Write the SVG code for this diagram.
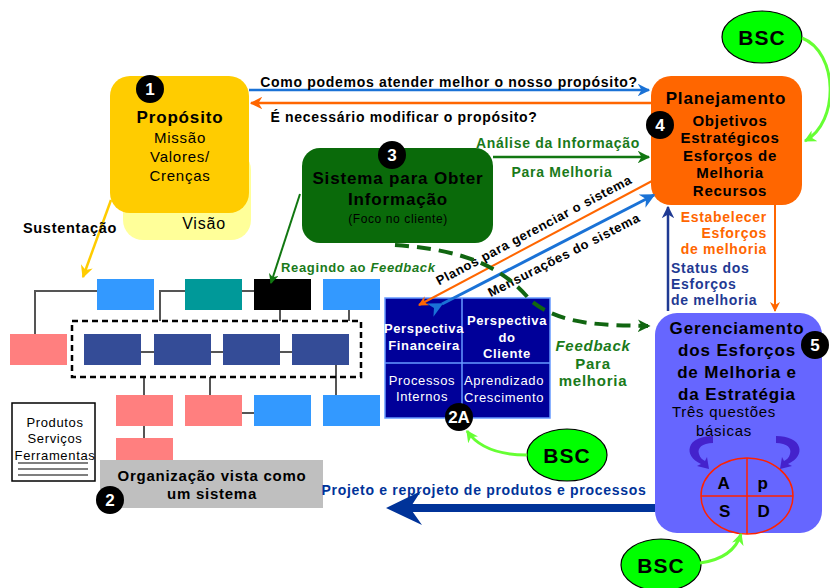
<svg xmlns="http://www.w3.org/2000/svg" width="830" height="588" viewBox="0 0 830 588">
<defs>
<style>
text{font-family:"Liberation Sans",Arial,sans-serif;letter-spacing:0.05em;}
.b{font-weight:bold;}
.c{text-anchor:middle;}
.num{fill:#000;}
.numt{fill:#fff;font-weight:bold;font-size:17px;text-anchor:middle;letter-spacing:0;}
.org{stroke:#555;stroke-width:2;fill:none;}
.g{fill:#1a7a1a;}
.curl{fill:#4422cc;}
</style>
<marker id="mBlue" viewBox="0 0 10 10" refX="9" refY="5" markerWidth="5" markerHeight="5" orient="auto"><path d="M0,0 L10,5 L0,10 L3,5 z" fill="#1a72d6"/></marker>
<marker id="mOr" viewBox="0 0 10 10" refX="9" refY="5" markerWidth="5" markerHeight="5" orient="auto"><path d="M0,0 L10,5 L0,10 L3,5 z" fill="#ff6600"/></marker>
<marker id="mGr" viewBox="0 0 10 10" refX="9" refY="5" markerWidth="5" markerHeight="5" orient="auto"><path d="M0,0 L10,5 L0,10 L3,5 z" fill="#117711"/></marker>
<marker id="mYe" viewBox="0 0 10 10" refX="9" refY="5" markerWidth="5" markerHeight="5" orient="auto"><path d="M0,0 L10,5 L0,10 L3,5 z" fill="#ffcc00"/></marker>
<marker id="mNv" viewBox="0 0 10 10" refX="9" refY="5" markerWidth="5" markerHeight="5" orient="auto"><path d="M0,0 L10,5 L0,10 L3,5 z" fill="#1f3a93"/></marker>
<marker id="mLg" viewBox="0 0 10 10" refX="9" refY="5" markerWidth="4" markerHeight="4" orient="auto"><path d="M0,0 L10,5 L0,10 L3,5 z" fill="#66ff33"/></marker>
<marker id="mDg" viewBox="0 0 10 10" refX="8" refY="5" markerWidth="3.2" markerHeight="3.2" orient="auto"><path d="M0,0 L10,5 L0,10 L3,5 z" fill="#116611"/></marker>
</defs>
<rect width="830" height="588" fill="#fff"/>

<!-- Org chart -->
<g id="orgchart">
<g class="org">
<path d="M97,291 H35 V334"/>
<path d="M185,291 H160 V321"/>
<path d="M242,291 H254"/>
<path d="M280,310 V321"/>
<path d="M349,310 V321"/>
<path d="M141,352 H154 M211,352 H223 M280,352 H292"/>
<path d="M144,377 V395"/>
<path d="M210,377 V395"/>
<path d="M336,365 V395"/>
<path d="M242,413 H254"/>
<path d="M144,426 V438"/>
</g>
<rect x="97" y="279" width="57" height="31" fill="#3399ff"/>
<rect x="185" y="279" width="57" height="31" fill="#009999"/>
<rect x="254" y="279" width="57" height="31" fill="#000"/>
<rect x="323" y="279" width="57" height="31" fill="#3399ff"/>
<rect x="10" y="334" width="57" height="31" fill="#ff7f7f"/>
<rect x="72" y="321" width="289" height="56" fill="none" stroke="#000" stroke-width="2.5" stroke-dasharray="6,4"/>
<rect x="84" y="334" width="57" height="31" fill="#344c97"/>
<rect x="154" y="334" width="57" height="31" fill="#344c97"/>
<rect x="223" y="334" width="57" height="31" fill="#344c97"/>
<rect x="292" y="334" width="57" height="31" fill="#344c97"/>
<rect x="116" y="395" width="57" height="31" fill="#ff7f7f"/>
<rect x="185" y="395" width="57" height="31" fill="#ff7f7f"/>
<rect x="254" y="395" width="57" height="31" fill="#3399ff"/>
<rect x="323" y="395" width="57" height="31" fill="#3399ff"/>
<rect x="116" y="438" width="57" height="24" fill="#ff7f7f"/>
</g>

<g id="produtos">
<rect x="12" y="403" width="83" height="78" fill="#fff" stroke="#000" stroke-width="1.5"/>
<text x="55" y="427" class="c" font-size="13" letter-spacing="0">Produtos</text>
<text x="55" y="443" class="c" font-size="13" letter-spacing="0">Serviços</text>
<text x="55" y="460" class="c" font-size="13" letter-spacing="0">Ferramentas</text>
<path d="M18,463 H88 M18,469 H88 M18,475 H88" stroke="#000" stroke-width="1.2"/>
</g>

<g id="organizacao">
<rect x="100" y="460" width="223" height="48" fill="#bfbfbf"/>
<text x="212" y="481" class="c b" font-size="15">Organização vista como</text>
<text x="212" y="499" class="c b" font-size="15">um sistema</text>
<circle cx="110" cy="500" r="14" class="num"/>
<text x="110" y="506" class="numt">2</text>
</g>

<g id="proposito">
<rect x="123" y="150" width="128" height="90" rx="20" fill="#ffff99"/>
<rect x="110" y="76" width="139" height="137" rx="20" fill="#ffcc00"/>
<circle cx="150" cy="89" r="14" class="num"/>
<text x="150" y="95" class="numt">1</text>
<text x="180" y="123" class="c b" font-size="17">Propósito</text>
<text x="180" y="143" class="c" font-size="15">Missão</text>
<text x="180" y="162" class="c" font-size="15">Valores/</text>
<text x="180" y="181" class="c" font-size="15">Crenças</text>
<text x="204" y="229" class="c" font-size="16">Visão</text>
</g>

<g id="sistema">
<rect x="302" y="148" width="191" height="95" rx="18" fill="#0a6a0a"/>
<circle cx="392" cy="155" r="14" class="num"/>
<text x="392" y="161" class="numt">3</text>
<text x="398" y="184" class="c b" font-size="17">Sistema para Obter</text>
<text x="398" y="205" class="c b" font-size="17">Informação</text>
<text x="398" y="223" class="c" font-size="12">(Foco no cliente)</text>
</g>

<g id="planejamento">
<rect x="651" y="76" width="151" height="129" rx="20" fill="#ff6600"/>
<circle cx="660" cy="125" r="14" class="num"/>
<text x="660" y="131" class="numt">4</text>
<text x="726" y="104" class="c b" font-size="17">Planejamento</text>
<text x="730" y="126" class="c b" font-size="15">Objetivos</text>
<text x="730" y="143" class="c b" font-size="15">Estratégicos</text>
<text x="730" y="161" class="c b" font-size="15">Esforços de</text>
<text x="730" y="178" class="c b" font-size="15">Melhoria</text>
<text x="730" y="196" class="c b" font-size="15">Recursos</text>
</g>

<g id="gerenciamento">
<rect x="655" y="313" width="167" height="220" rx="22" fill="#6666ff"/>
<circle cx="815" cy="345" r="14" class="num"/>
<text x="815" y="351" class="numt">5</text>
<text x="737" y="334" class="c b" font-size="17">Gerenciamento</text>
<text x="737" y="356" class="c b" font-size="17">dos Esforços</text>
<text x="737" y="378" class="c b" font-size="17">de Melhoria e</text>
<text x="737" y="400" class="c b" font-size="17">da Estratégia</text>
<text x="724" y="417" class="c" font-size="15">Três questões</text>
<text x="724" y="436" class="c" font-size="15">básicas</text>
<path class="curl" d="M713,436 L713,443 C702,443 697,448 699,454 C700,458 703,460 705,461 L707,457 L709,469 L697,466 L701,464 C692,460 688,453 690,447 C692,440 701,436 713,436 Z"/>
<path class="curl" d="M776,436 L776,443 C787,443 792,448 790,454 C789,458 786,460 784,461 L782,457 L780,469 L792,466 L788,464 C797,460 801,453 799,447 C797,440 788,436 776,436 Z"/>
<ellipse cx="747" cy="496" rx="46" ry="38" fill="none" stroke="#ff2200" stroke-width="1.5"/>
<path d="M701,496 H793 M747,458 V534" stroke="#ff2200" stroke-width="1.5"/>
<text x="724" y="489" class="c b" font-size="17">A</text>
<text x="763" y="489" class="c b" font-size="17">p</text>
<text x="725" y="517" class="c b" font-size="17">S</text>
<text x="764" y="517" class="c b" font-size="17">D</text>
</g>

<g id="perspectivas">
<rect x="385" y="298" width="165" height="120" fill="#000099" stroke="#6699ff" stroke-width="1.5"/>
<path d="M462,298 V418 M385,363 H550" stroke="#6699ff" stroke-width="1.5"/>
<g fill="#fff" font-size="13" text-anchor="middle" letter-spacing="0.03em">
<text x="424" y="333" class="b">Perspectiva</text>
<text x="424" y="350" class="b">Financeira</text>
<text x="507" y="325" class="b">Perspectiva</text>
<text x="507" y="342" class="b">do</text>
<text x="507" y="358" class="b">Cliente</text>
<text x="422" y="385">Processos</text>
<text x="422" y="401">Internos</text>
<text x="504" y="385">Aprendizado</text>
<text x="504" y="402">Crescimento</text>
</g>
<circle cx="459" cy="417" r="14" class="num"/>
<text x="459" y="423" class="numt" font-size="16">2A</text>
</g>

<g id="bsc-top">
<ellipse cx="762" cy="37" rx="40" ry="26" fill="#00ff00" stroke="#000" stroke-width="1.2"/>
<text x="762" y="45" class="c b" font-size="21" letter-spacing="0">BSC</text>
</g>
<g id="bsc-mid">
<ellipse cx="567" cy="455" rx="40" ry="26" fill="#00ff00" stroke="#000" stroke-width="1.2"/>
<text x="567" y="463" class="c b" font-size="21" letter-spacing="0">BSC</text>
</g>
<g id="bsc-bottom">
<ellipse cx="661" cy="565" rx="40" ry="26" fill="#00ff00" stroke="#000" stroke-width="1.2"/>
<text x="661" y="573" class="c b" font-size="21" letter-spacing="0">BSC</text>
</g>

<g id="connectors">
<line x1="249" y1="90" x2="649" y2="90" stroke="#1a72d6" stroke-width="2.5" marker-end="url(#mBlue)"/>
<text x="449" y="87" class="c b" font-size="14">Como podemos atender melhor o nosso propósito?</text>
<line x1="651" y1="103" x2="251" y2="103" stroke="#ff6600" stroke-width="2.5" marker-end="url(#mOr)"/>
<text x="404" y="122" class="c b" font-size="14">É necessário modificar o propósito?</text>

<line x1="493" y1="157" x2="649" y2="157" stroke="#117711" stroke-width="2.5" marker-end="url(#mGr)"/>
<text x="558" y="148" class="c b g" font-size="14">Análise da Informação</text>
<text x="562" y="177" class="c b g" font-size="14">Para Melhoria</text>

<line x1="652" y1="181" x2="419" y2="305" stroke="#ff6600" stroke-width="2" marker-end="url(#mOr)"/>
<line x1="442" y1="304" x2="654" y2="195" stroke="#1a72d6" stroke-width="3" marker-start="url(#mBlue)" marker-end="url(#mBlue)"/>
<text transform="translate(536,234) rotate(-28)" class="c b" font-size="13">Planos para gerenciar o sistema</text>
<text transform="translate(566,259) rotate(-27)" class="c b" font-size="13">Mensurações do sistema</text>

<line x1="111" y1="200" x2="83" y2="277" stroke="#ffcc00" stroke-width="2.5" marker-end="url(#mYe)"/>
<text x="70" y="233" class="c b" font-size="14.5">Sustentação</text>

<line x1="300" y1="194" x2="271" y2="283" stroke="#117711" stroke-width="2" marker-end="url(#mGr)"/>
<text x="281" y="272" class="b g" font-size="13">Reagindo ao <tspan font-style="italic">Feedback</tspan></text>

<path d="M395,245 C470,250 505,270 530,300 C560,325 600,325 648,326" fill="none" stroke="#116611" stroke-width="4" stroke-dasharray="14,8" marker-end="url(#mDg)"/>
<text x="593" y="351" class="c b g" font-size="15" font-style="italic">Feedback</text>
<text x="593" y="369" class="c b g" font-size="15">Para</text>
<text x="593" y="386" class="c b g" font-size="15">melhoria</text>

<line x1="775" y1="205" x2="775" y2="311" stroke="#ff6600" stroke-width="2" marker-end="url(#mOr)"/>
<g fill="#ff6600" font-size="14" class="b" text-anchor="end">
<text x="767" y="222">Estabelecer</text>
<text x="767" y="238">Esforços</text>
<text x="767" y="254">de melhoria</text>
</g>
<line x1="668" y1="311" x2="668" y2="207" stroke="#1f3a93" stroke-width="2.5" marker-end="url(#mNv)"/>
<g fill="#1f3a93" font-size="14" class="b">
<text x="671" y="273">Status dos</text>
<text x="671" y="289">Esforços</text>
<text x="671" y="305">de melhoria</text>
</g>

<path d="M802,38 C838,52 840,122 805,141" fill="none" stroke="#66ff33" stroke-width="3" marker-end="url(#mLg)"/>
<path d="M527,455 C497,455 478,447 467,431" fill="none" stroke="#66ff33" stroke-width="3" marker-end="url(#mLg)"/>
<path d="M700,563 C722,560 736,550 741,534" fill="none" stroke="#66ff33" stroke-width="3" marker-end="url(#mLg)"/>

<rect x="408" y="504" width="247" height="8" fill="#003399"/>
<path d="M386,508 L421,491 L410,508 L422,525 Z" fill="#003399"/>
<text x="484" y="495" class="c b" font-size="14" fill="#003399">Projeto e reprojeto de produtos e processos</text>
</g>
</svg>
